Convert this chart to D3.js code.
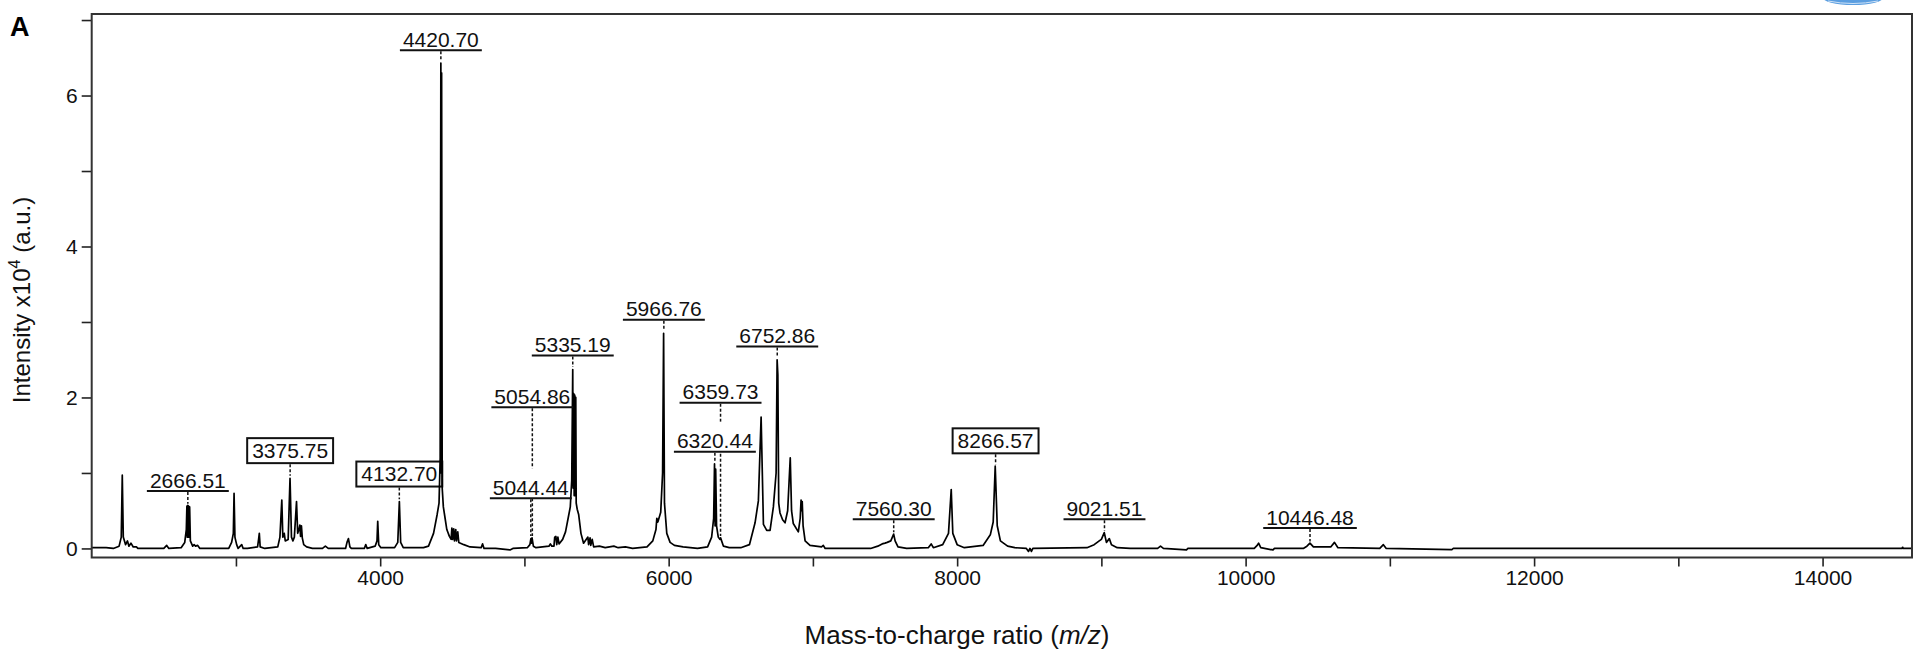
<!DOCTYPE html>
<html><head><meta charset="utf-8">
<script src="https://cdn.jsdelivr.net/npm/d3@7"></script>
<style>
html,body{margin:0;padding:0;background:#fff;}
svg{display:block;font-family:"Liberation Sans",Arial,Helvetica,sans-serif;}
</style></head><body>
<svg id="chart" width="1915" height="652"></svg>
<script>
// ---------- data ----------
const xDomain = [2000, 14620];
const yDomain = [-0.12, 7.08];
const xTickValues = [3000,4000,5000,6000,7000,8000,9000,10000,11000,12000,13000,14000];
const xTickLabels = [4000,6000,8000,10000,12000,14000];
const yTickValues = [0,1,2,3,4,5,6,7];
const yTickLabels = [0,2,4,6];

// spectrum profile points: [m/z, intensity x10^4]
const spectrum = [
 [2000,0.01],[2100,0.01],[2150,0.0],[2190,0.03],[2205,0.15],[2212,0.97],[2219,0.15],[2235,0.05],[2248,0.1],[2258,0.03],[2272,0.07],[2288,0.02],[2310,0.02],[2320,0.0],
 [2500,0.0],[2520,0.04],[2535,0.0],
 [2620,0.01],[2645,0.08],[2656,0.25],[2660,0.56],[2663,0.15],[2666,0.57],[2669,0.15],[2672,0.56],[2675,0.15],[2679,0.55],[2684,0.1],[2700,0.03],[2710,0.05],[2720,0.03],[2735,0.04],[2750,0.0],
 [2950,0.0],[2970,0.08],[2982,0.2],[2987,0.73],[2993,0.15],[3005,0.05],[3015,0.0],[3040,0.05],[3050,0.0],[3080,0.0],
 [3150,0.02],[3157,0.12],[3162,0.2],[3168,0.02],[3200,0.0],
 [3290,0.02],[3305,0.15],[3318,0.64],[3325,0.15],[3335,0.2],[3342,0.1],[3362,0.12],[3375,0.93],[3385,0.15],[3395,0.1],[3405,0.15],[3420,0.62],[3428,0.2],[3437,0.25],[3443,0.31],[3448,0.16],[3454,0.3],[3460,0.14],[3470,0.05],[3490,0.02],[3530,0.0],
 [3600,0.0],[3620,0.03],[3640,0.0],
 [3760,0.0],[3770,0.08],[3780,0.13],[3790,0.02],[3800,0.0],
 [3890,0.0],[3900,0.05],[3910,0.0],
 [3965,0.03],[3978,0.1],[3983,0.36],[3990,0.05],[4005,0.01],
 [4100,0.01],[4122,0.08],[4133,0.62],[4142,0.08],[4160,0.01],
 [4300,0.01],[4335,0.03],[4370,0.2],[4395,0.45],[4408,0.6],[4416,1.2],[4420.7,6.43],[4423,1.0],[4426,6.3],[4430,0.8],[4438,0.55],[4450,0.4],[4462,0.25],[4480,0.16],[4492,0.12],[4497,0.27],[4502,0.12],[4510,0.26],[4515,0.1],[4524,0.25],[4529,0.1],[4538,0.22],[4545,0.08],[4580,0.05],[4623,0.02],[4700,0.01],[4710,0.06],[4720,0.0],[4800,0.0],[4900,-0.02],[4920,0.0],
 [5020,0.01],[5038,0.05],[5045,0.13],[5049,0.07],[5053,0.14],[5062,0.03],[5080,0.01],
 [5170,0.03],[5180,0.06],[5190,0.03],[5205,0.03],[5210,0.15],[5218,0.16],[5224,0.05],[5232,0.15],[5240,0.06],[5265,0.12],[5285,0.22],[5305,0.42],[5318,0.55],[5328,0.9],[5335,2.37],[5338,0.8],[5342,2.05],[5345,0.7],[5349,2.03],[5352,0.7],[5356,2.0],[5359,0.6],[5366,0.52],[5376,0.45],[5392,0.2],[5410,0.07],[5440,0.15],[5445,0.05],[5455,0.14],[5460,0.04],[5470,0.12],[5480,0.02],[5520,0.03],[5560,0.01],[5620,0.03],[5650,0.01],[5700,0.02],[5750,0.0],
 [5850,0.02],[5890,0.1],[5912,0.25],[5918,0.4],[5925,0.35],[5945,0.48],[5958,1.0],[5965,2.85],[5971,0.6],[5987,0.2],[6010,0.08],[6040,0.04],[6100,0.02],[6200,0.0],
 [6270,0.02],[6298,0.15],[6312,0.4],[6318,1.12],[6322,0.3],[6326,1.05],[6332,0.3],[6344,0.15],[6355,0.12],[6360,0.14],[6380,0.03],[6420,0.01],[6500,0.01],
 [6560,0.05],[6599,0.34],[6622,0.63],[6641,1.74],[6657,0.32],[6680,0.24],[6703,0.24],[6726,0.55],[6745,1.0],[6752,2.5],[6757,2.3],[6763,0.6],[6772,0.47],[6790,0.38],[6807,0.34],[6825,0.5],[6843,1.2],[6852,0.5],[6864,0.33],[6899,0.22],[6912,0.4],[6918,0.64],[6922,0.5],[6926,0.62],[6932,0.3],[6946,0.1],[6980,0.04],[7060,0.02],[7072,0.04],[7085,0.0],
 [7400,0.0],[7450,0.03],[7480,0.06],[7500,0.07],[7515,0.08],[7540,0.1],[7560,0.19],[7570,0.1],[7590,0.02],[7650,0.0],
 [7800,0.01],[7820,0.06],[7835,0.01],[7900,0.05],[7940,0.2],[7959,0.78],[7970,0.2],[8000,0.05],[8050,0.01],
 [8180,0.04],[8230,0.18],[8250,0.35],[8264,1.09],[8278,0.3],[8300,0.1],[8350,0.03],[8400,0.01],[8480,0.0],[8495,-0.04],[8505,0.0],[8515,-0.04],[8525,0.0],
 [8900,0.01],[8950,0.05],[8985,0.1],[9000,0.12],[9020,0.21],[9035,0.08],[9055,0.13],[9070,0.05],[9110,0.01],[9200,0.0],
 [9390,0.0],[9410,0.03],[9430,0.0],[9590,-0.02],[9600,0.0],
 [10060,0.0],[10080,0.04],[10090,0.07],[10105,0.01],[10190,-0.02],[10200,0.0],
 [10400,0.0],[10425,0.03],[10446,0.07],[10470,0.02],[10590,0.02],[10616,0.08],[10640,0.01],[10930,0.0],[10955,0.05],[10975,0.0],[11430,-0.015],[11440,0.0],[14550,0.0],[14555,0.015],[14560,0.0],[14620,0.0]
];

// peak annotations
const labelText  = ["2666.51","3375.75","4132.70","4420.70","5044.44","5054.86","5335.19","5966.76","6320.44","6359.73","6752.86","7560.30","8266.57","9021.51","10446.48"];
const labelMz    = [2666.51, 3375.75, 4132.70, 4420.70, 5044.44, 5054.86, 5335.19, 5966.76, 6320.44, 6359.73, 6752.86, 7560.30, 8266.57, 9021.51, 10446.48];
const labelLevel = [0.76, 1.13, 0.82, 6.6, 0.665, 1.87, 2.555, 3.03, 1.28, 1.93, 2.675, 0.387, 1.26, 0.387, 0.27];
const labelPeak  = [0.58, 0.95, 0.64, 6.45, 0.15, 0.15, 2.39, 2.87, 1.14, 0.15, 2.52, 0.2, 1.1, 0.22, 0.08];
const labelBoxed = [false, true, true, false, false, false, false, false, false, false, false, false, true, false, false];

// ---------- drawing ----------
const svg = d3.select("#chart");
const L = 91.7, R = 1912, T = 14, B = 557.5;
const x = d3.scaleLinear().domain(xDomain).range([L, R]);
const y = d3.scaleLinear().domain(yDomain).range([B, T]);
const FONT = 21;

svg.append("rect").attr("width",1915).attr("height",652).attr("fill","#fff");

// watermark fragment top-right
svg.append("ellipse").attr("cx",1853).attr("cy",-3).attr("rx",31).attr("ry",8).attr("fill","#5b9ee0");
svg.append("path").attr("d","M1828,1 Q1853,6 1878,1").attr("fill","none").attr("stroke","#cfe3f7").attr("stroke-width",1);

// axes
const xAxis = d3.axisBottom(x).tickValues(xTickValues).tickSize(9).tickPadding(4)
  .tickFormat(d => xTickLabels.includes(d) ? d : "");
const gx = svg.append("g").attr("transform",`translate(0,${B})`).call(xAxis);
gx.select(".domain").remove();
gx.selectAll("line").attr("stroke","#222").attr("stroke-width",1.6);
gx.selectAll("text").attr("font-size",FONT).attr("fill","#111").attr("font-family","Liberation Sans, Arial, sans-serif");

const yAxis = d3.axisLeft(y).tickValues(yTickValues).tickSize(10).tickPadding(4)
  .tickFormat(d => yTickLabels.includes(d) ? d : "");
const gy = svg.append("g").attr("transform",`translate(${L},0)`).call(yAxis);
gy.select(".domain").remove();
gy.selectAll("line").attr("stroke","#222").attr("stroke-width",1.6);
gy.selectAll("text").attr("font-size",FONT).attr("fill","#111").attr("font-family","Liberation Sans, Arial, sans-serif");

// leaders (dashed), drawn first so label backgrounds can hide them
const ann = labelText.map((t,i)=>({t, mz:labelMz[i], lv:labelLevel[i], pk:labelPeak[i], box:labelBoxed[i]}));
svg.append("g").selectAll("line").data(ann).join("line")
  .attr("x1",d=>x(d.mz)).attr("x2",d=>x(d.mz))
  .attr("y1",d=>y(d.lv)+1).attr("y2",d=>y(d.pk)-1)
  .attr("stroke","#111").attr("stroke-width",1.5).attr("stroke-dasharray","3,2");

// label groups
const gl = svg.append("g");
const labels = gl.selectAll("g").data(ann).join("g");
labels.each(function(d){
  const g = d3.select(this);
  const bg = g.append("rect").attr("fill","#fff");
  const txt = g.append("text").attr("x",x(d.mz)).attr("text-anchor","middle")
    .attr("font-size",FONT).attr("fill","#111").text(d.t);
  const w = txt.node().getComputedTextLength();
  const yl = y(d.lv);
  if(d.box){
    txt.attr("y", yl-5.5);
    bg.attr("x",x(d.mz)-w/2-5).attr("y",yl-25).attr("width",w+10).attr("height",25)
      .attr("stroke","#111").attr("stroke-width",2);
  } else {
    txt.attr("y", yl-3.5);
    bg.attr("x",x(d.mz)-w/2-3).attr("y",yl-30).attr("width",w+6).attr("height",30);
    d.ul = [x(d.mz)-w/2-3, x(d.mz)+w/2+3, yl];
  }
});

// spectrum
const line = d3.line().x(d=>x(d[0])).y(d=>y(d[1]));
svg.append("path").datum(spectrum).attr("d",line)
  .attr("fill","none").attr("stroke","#000").attr("stroke-width",1.7).attr("stroke-linejoin","round");

// underlines on top
svg.append("g").selectAll("line").data(ann.filter(d=>!d.box)).join("line")
  .attr("x1",d=>d.ul[0]).attr("x2",d=>d.ul[1]).attr("y1",d=>d.ul[2]).attr("y2",d=>d.ul[2])
  .attr("stroke","#111").attr("stroke-width",2);

// frame
svg.append("rect").attr("x",L).attr("y",T).attr("width",R-L).attr("height",B-T)
  .attr("fill","none").attr("stroke","#333").attr("stroke-width",2);

// titles
svg.append("text").attr("x",957).attr("y",644).attr("text-anchor","middle")
  .attr("font-size",26).attr("fill","#111")
  .call(t=>{ t.append("tspan").text("Mass-to-charge ratio (");
             t.append("tspan").attr("font-style","italic").text("m/z");
             t.append("tspan").text(")"); });

svg.append("text").attr("transform","translate(30,300) rotate(-90)").attr("text-anchor","middle")
  .attr("font-size",24).attr("fill","#111")
  .call(t=>{ t.append("tspan").text("Intensity x10");
             t.append("tspan").attr("font-size",16).attr("dy",-10).text("4");
             t.append("tspan").attr("dy",10).text(" (a.u.)"); });

svg.append("text").attr("x",10).attr("y",36).attr("font-size",27).attr("font-weight","bold")
  .attr("fill","#000").text("A");
</script>
</body></html>
